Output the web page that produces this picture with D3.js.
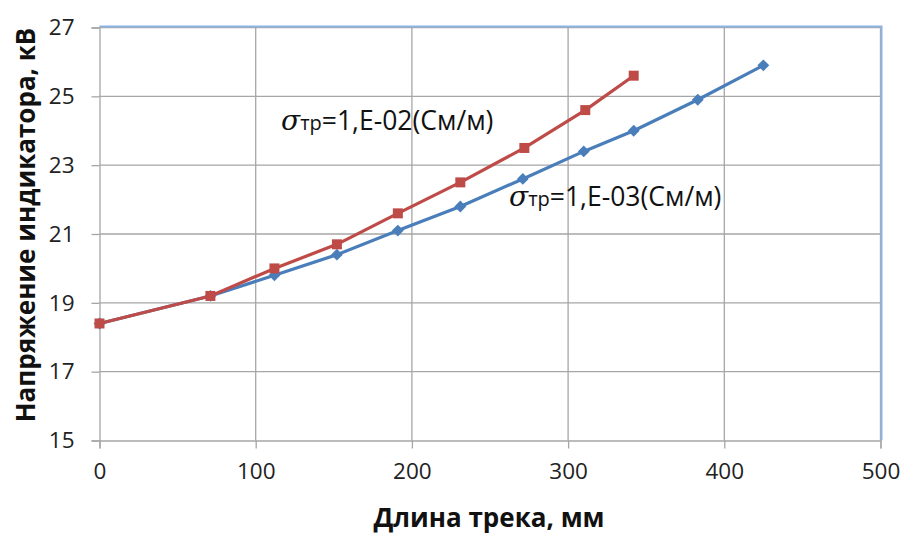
<!DOCTYPE html>
<html><head><meta charset="utf-8">
<script src="https://cdn.jsdelivr.net/npm/d3@7"></script>
<style>
html,body{margin:0;padding:0;background:#fff;}
svg{display:block;font-family:"Open Sans",sans-serif;}
</style></head>
<body>
<svg id="c" width="902" height="535"></svg>
<script>
const xTicks = [0, 100, 200, 300, 400, 500];
const yTicks = [15, 17, 19, 21, 23, 25, 27];
const xBlue = [0, 71, 112, 152, 191, 231, 271, 310, 342, 383, 425];
const yBlue = [18.4, 19.2, 19.8, 20.4, 21.1, 21.8, 22.6, 23.4, 24.0, 24.9, 25.9];
const xRed = [0, 71, 112, 152, 191, 231, 272, 311, 342];
const yRed = [18.4, 19.2, 20.0, 20.7, 21.6, 22.5, 23.5, 24.6, 25.6];
const xTitle = "Длина трека, мм";
const yTitle = "Напряжение индикатора, кВ";
const labelRed = ["σ", "тр", "=1,E-02(См/м)"];
const labelBlue = ["σ", "тр", "=1,E-03(См/м)"];

const svg = d3.select("#c");
const m = {l: 99.5, t: 27.5, r: 880.5, b: 440.5};
const x = d3.scaleLinear().domain([0, 500]).range([m.l, m.r]);
const y = d3.scaleLinear().domain([15, 27]).range([m.b, m.t]);
const grid = "#a6a6a6";

// gridlines
const g = svg.append("g");
g.selectAll(".vg").data(xTicks.slice(1)).enter().append("line")
  .attr("x1", d => x(d)).attr("x2", d => x(d)).attr("y1", m.t).attr("y2", m.b)
  .attr("stroke", grid).attr("stroke-width", 1.3);
g.selectAll(".hg").data(yTicks.slice(1)).enter().append("line")
  .attr("x1", m.l).attr("x2", m.r).attr("y1", d => y(d)).attr("y2", d => y(d))
  .attr("stroke", grid).attr("stroke-width", 1.3);
// plot border top/right (light blue)
svg.append("path")
  .attr("d", `M${m.l},${m.t - 1}H${m.r + 1}V${m.b}`)
  .attr("fill", "none").attr("stroke", "#8db3e2").attr("stroke-width", 2);

// axes
const xAxis = d3.axisBottom(x).tickValues(xTicks).tickSize(8).tickPadding(14);
const yAxis = d3.axisLeft(y).tickValues(yTicks).tickSize(8).tickPadding(17);
const ax = svg.append("g").attr("transform", `translate(0,${m.b})`).call(xAxis);
const ay = svg.append("g").attr("transform", `translate(${m.l},0)`).call(yAxis);
[ax, ay].forEach(a => {
  a.select(".domain").attr("stroke", grid).attr("stroke-width", 1.3);
  a.selectAll(".tick line").attr("stroke", grid).attr("stroke-width", 1.3);
  a.selectAll(".tick text").attr("fill", "#222").style("font-size", "22.5px")
    .style("font-family", "'Open Sans',sans-serif");
});
ax.selectAll(".tick text").attr("dy", "0.75em");

// titles
svg.append("text").attr("x", x(250) - 1).attr("y", 527).attr("text-anchor", "middle")
  .style("font-size", "26px").style("font-weight", "bold").attr("fill", "#111").text(xTitle);
svg.append("text").attr("transform", `translate(35,${(m.t + m.b) / 2 - 9}) rotate(-90)`)
  .attr("text-anchor", "middle").style("font-size", "26px").style("font-weight", "bold")
  .attr("fill", "#111").text(yTitle);

// series
function series(xs, ys, color, shape, size, rot) {
  const pts = xs.map((d, i) => [d, ys[i]]);
  svg.append("path").datum(pts)
    .attr("d", d3.line().x(d => x(d[0])).y(d => y(d[1])))
    .attr("fill", "none").attr("stroke", color).attr("stroke-width", 3.2)
    .attr("stroke-linejoin", "round");
  svg.append("g").selectAll("path").data(pts).enter().append("path")
    .attr("transform", d => `translate(${x(d[0])},${y(d[1])}) rotate(${rot})`)
    .attr("d", d3.symbol().type(shape).size(size)())
    .attr("fill", color);
}
series(xBlue, yBlue, "#4a7ebb", d3.symbolSquare, 70, 45);
series(xRed, yRed, "#be4b48", d3.symbolSquare, 100, 0);

// annotations
function label(px, py, parts) {
  const t = svg.append("text").attr("x", px).attr("y", py).attr("fill", "#111")
    .style("font-size", "26.5px");
  t.append("tspan").text(parts[0]).style("font-style", "italic")
    .style("font-family", "'DejaVu Serif',serif").style("font-size", "28px");
  t.append("tspan").text(parts[1]).style("font-size", "20px");
  t.append("tspan").text(parts[2]);
}
label(281, 130, labelRed);
label(509, 206, labelBlue);
</script>
</body></html>
